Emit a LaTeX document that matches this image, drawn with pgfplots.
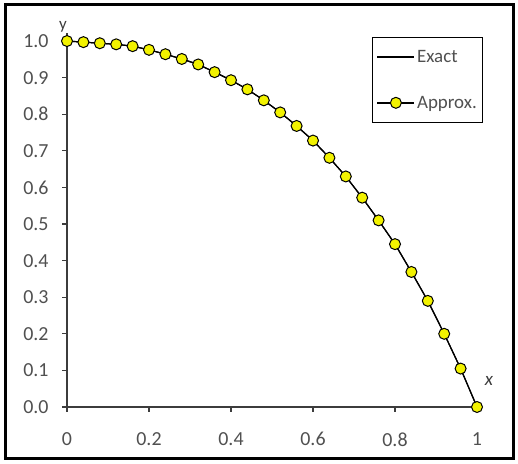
\documentclass[border=0pt]{standalone}
\usepackage{pgfplots}
\pgfplotsset{compat=1.18}
\usepackage{pgfplotstable}
\usepackage{fontspec}
\setmainfont{Carlito}
\definecolor{myyellow}{RGB}{242,242,0}
\definecolor{ticktext}{RGB}{80,80,80}
\definecolor{axisgray}{RGB}{60,60,60}

\pgfplotstableread{
x y
0.00 1.000
0.04 0.997
0.08 0.994
0.12 0.991
0.16 0.986
0.20 0.976
0.24 0.964
0.28 0.951
0.32 0.936
0.36 0.915
0.40 0.893
0.44 0.868
0.48 0.838
0.52 0.805
0.56 0.768
0.60 0.728
0.64 0.681
0.68 0.630
0.72 0.572
0.76 0.510
0.80 0.445
0.84 0.369
0.88 0.290
0.92 0.200
0.96 0.105
1.00 0.000
}\datatable

\begin{document}
\begin{tikzpicture}[x=1bp,y=1bp]
\path[use as bounding box] (0,0) rectangle (518,464);
\draw[line width=3bp] (5,5) rectangle (513,459);
\begin{axis}[
  at={(67bp,57bp)}, anchor=south west,
  scale only axis, width=410bp, height=374bp,
  xmin=0, xmax=1, ymin=0, ymax=1.022,
  clip=false,
  axis lines=left,
  axis line style={-, axisgray, line width=1.5bp},
  tick style={axisgray, line width=1.2bp},
  tick align=outside,
  major tick length=5bp,
  xtick={0,0.2,0.4,0.6,0.8,1},
  xticklabels={0,0.2,0.4,0.6,0.8,1},
  ytick={0,0.1,0.2,0.3,0.4,0.5,0.6,0.7,0.8,0.9,1.0},
  /pgf/number format/assume math mode=true,
  yticklabel style={/pgf/number format/fixed, /pgf/number format/fixed zerofill, /pgf/number format/precision=1},
  ticklabel style={font=\fontsize{20}{24}\selectfont, text=ticktext},
  xticklabel style={yshift=-17bp},
  yticklabel style={xshift=-10bp},
  legend style={at={(0.744,0.99)}, anchor=north west, draw=black, line width=1.3bp,
    font=\fontsize{19}{22}\selectfont, text=ticktext, inner xsep=4bp, inner ysep=11bp,
    row sep=28bp},
  legend cell align=left,
  legend image code/.code={\draw[mark repeat=2,mark phase=2,#1, line width=1.4bp] plot coordinates {(0bp,0bp) (18.5bp,0bp) (37bp,0bp)};},
]
\addplot[black, line width=1.2bp, no marks] table[x=x,y=y] {\datatable};
\addlegendentry{Exact}
\addplot[black, line width=1.2bp, mark=*, mark size=5.5bp,
  mark options={fill=myyellow, draw=black, line width=1bp, solid}] table[x=x,y=y] {\datatable};
\addlegendentry{Approx.}
\node[font=\fontsize{17}{20}\selectfont, text=axisgray] at (rel axis cs:-0.01,1.016) {y};
\node[font=\fontsize{19}{22}\selectfont\itshape, text=axisgray] at (rel axis cs:1.029,0.07) {x};
\end{axis}
\end{tikzpicture}
\end{document}
